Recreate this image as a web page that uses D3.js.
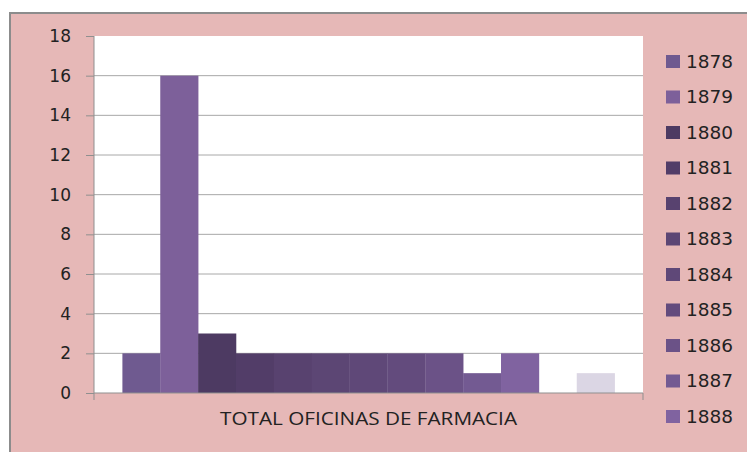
<!DOCTYPE html>
<meta charset="utf-8">
<style>
body { margin: 0; background: #fff; }
.axis path { display: none; }
.axis line { stroke: #8f8f8f; }
.axis text { font-family: "DejaVu Sans", sans-serif; font-size: 17px; fill: #222; }
.grid line { stroke: #a8a8a8; }
.legend text { font-family: "DejaVu Sans", sans-serif; font-size: 18px; fill: #222; }
.xtitle { font-family: "Open Sans", sans-serif; font-size: 18.5px; fill: #222; }
</style>
<svg width="747" height="452"></svg>
<script src="https://d3js.org/d3.v7.min.js"></script>
<script>

var category = "TOTAL OFICINAS DE FARMACIA";
var years = ["1878", "1879", "1880", "1881", "1882", "1883", "1884", "1885", "1886", "1887", "1888", "1889", "1890"];
var values = [2, 16, 3, 2, 2, 2, 2, 2, 2, 1, 2, 0, 1];
var colors = ["#6f5a90", "#7d609a", "#4d3a62", "#523d68", "#58426f", "#5c4674", "#5f4878",
              "#634b7d", "#6b5287", "#735a92", "#8063a0", "#9a83b6", "#dbd6e4"];
var yTicks = [0, 2, 4, 6, 8, 10, 12, 14, 16, 18];

var svg = d3.select("svg");

// chart area
svg.append("rect")
    .attr("x", 10).attr("y", 13)
    .attr("width", 760).attr("height", 460)
    .attr("fill", "#e6b8b7")
    .attr("stroke", "#8c8c8c")
    .attr("stroke-width", 2);

var plotLeft = 94, plotRight = 643, plotTop = 36, plotBottom = 393;

svg.append("rect")
    .attr("x", plotLeft).attr("y", plotTop)
    .attr("width", plotRight - plotLeft).attr("height", plotBottom - plotTop)
    .attr("fill", "#fff");

var y = d3.scaleLinear().domain([0, 18]).range([plotBottom, plotTop]);

var x = d3.scaleBand().domain([category]).range([plotLeft, plotRight]);

var xs = d3.scaleBand()
    .domain(years)
    .range([0, x.bandwidth()])
    .paddingInner(0)
    .paddingOuter(0.75);

var color = d3.scaleOrdinal().domain(years).range(colors);

// gridlines
svg.append("g")
    .attr("class", "grid")
    .selectAll("line")
    .data(yTicks.filter(function(d) { return d > 0 && d < 18; }))
  .enter().append("line")
    .attr("x1", plotLeft).attr("x2", plotRight)
    .attr("y1", function(d) { return y(d); })
    .attr("y2", function(d) { return y(d); });

// bars
svg.append("g")
  .selectAll("rect")
    .data(years.map(function(yr, i) { return {year: yr, value: values[i]}; }))
  .enter().append("rect")
    .attr("x", function(d) { return x(category) + xs(d.year); })
    .attr("width", xs.bandwidth() + 0.3)
    .attr("y", function(d) { return y(d.value); })
    .attr("height", function(d) { return plotBottom - y(d.value); })
    .attr("fill", function(d) { return color(d.year); });

// y axis
svg.append("g")
    .attr("class", "axis")
    .attr("transform", "translate(" + plotLeft + ",0)")
    .call(d3.axisLeft(y).tickValues(yTicks).tickSize(8).tickPadding(15));

svg.append("line")
    .attr("x1", plotLeft).attr("x2", plotLeft)
    .attr("y1", plotTop).attr("y2", plotBottom)
    .attr("stroke", "#8f8f8f");

// x axis
svg.append("line")
    .attr("x1", plotLeft).attr("x2", plotRight)
    .attr("y1", plotBottom).attr("y2", plotBottom)
    .attr("stroke", "#8f8f8f");

svg.selectAll(".xtick")
    .data([plotLeft, plotRight])
  .enter().append("line")
    .attr("x1", function(d) { return d; }).attr("x2", function(d) { return d; })
    .attr("y1", plotBottom).attr("y2", plotBottom + 7)
    .attr("stroke", "#8f8f8f");

svg.append("text")
    .attr("class", "xtitle")
    .attr("x", 220)
    .attr("y", 425)
    .attr("textLength", 297)
    .attr("lengthAdjust", "spacingAndGlyphs")
    .text(category);

// legend (only the entries that fit)
var legend = svg.append("g")
    .attr("class", "legend")
  .selectAll("g")
    .data(years.slice(0, 11))
  .enter().append("g")
    .attr("transform", function(d, i) { return "translate(666," + (61 + i * 35.5) + ")"; });

legend.append("rect")
    .attr("x", 0).attr("y", -6)
    .attr("width", 14).attr("height", 13)
    .attr("fill", function(d) { return color(d); });

legend.append("text")
    .attr("x", 20)
    .attr("y", 6.5)
    .attr("textLength", 47)
    .attr("lengthAdjust", "spacingAndGlyphs")
    .text(function(d) { return d; });

</script>
